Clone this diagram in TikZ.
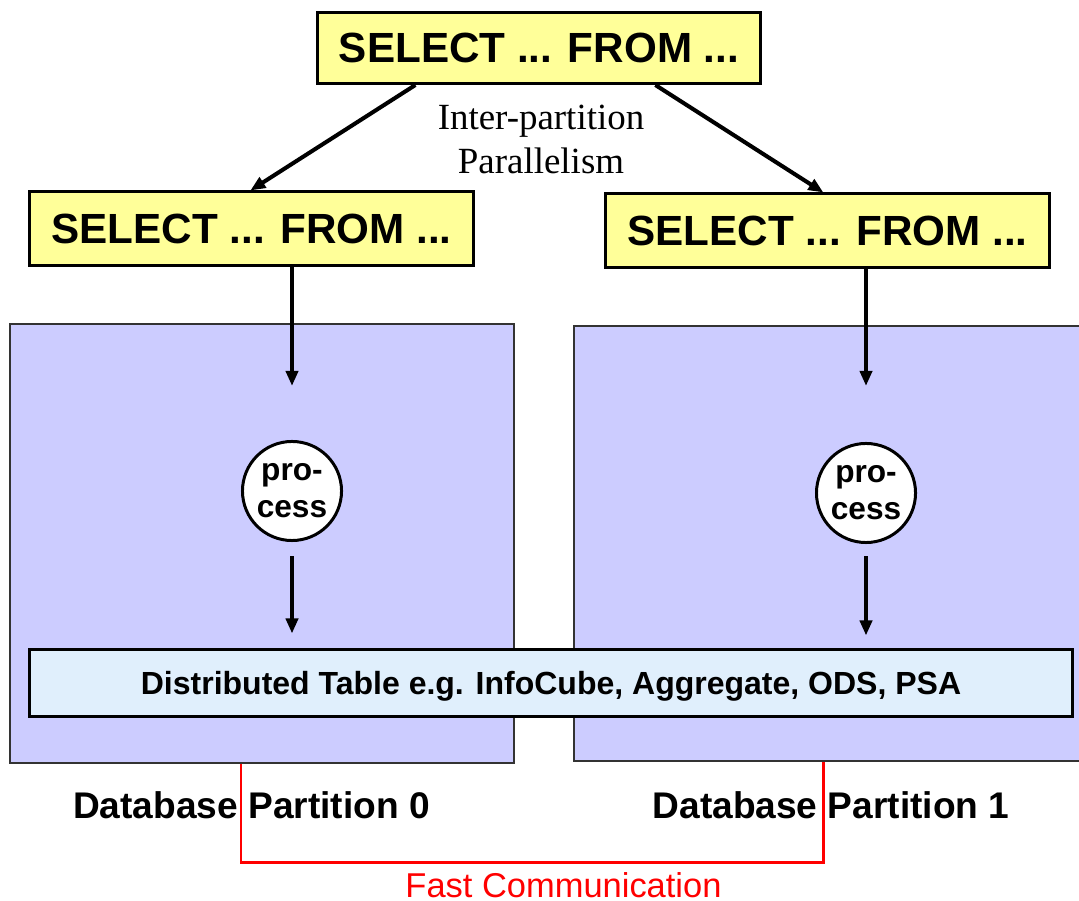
\documentclass[tikz,border=0pt]{standalone}
\usepackage{fontspec}
\setmainfont{Liberation Sans}
\newfontfamily\timesfont{Liberation Serif}
\usetikzlibrary{arrows.meta,calc}
\definecolor{queryyellow}{HTML}{FFFF99}
\definecolor{partlilac}{HTML}{CCCCFF}
\definecolor{tableblue}{HTML}{E0EFFC}
\definecolor{linkred}{HTML}{FF0000}
\tikzset{
  query/.style={draw=black, line width=0.85pt, fill=queryyellow,
    minimum width=4.42cm, minimum height=0.71cm, inner sep=0pt,
    font=\bfseries\fontsize{12}{14}\selectfont},
  partition/.style={draw=black!80, line width=0.6pt, fill=partlilac,
    anchor=north west, inner sep=0pt},
  disttable/.style={draw=black, line width=0.85pt, fill=tableblue,
    minimum width=10.42cm, minimum height=0.66cm, inner sep=0pt,
    text height=6.5pt, text depth=0pt,
    font=\bfseries\fontsize{9.1}{11}\selectfont},
  proc/.style={circle, draw=black, line width=0.85pt, fill=white,
    minimum size=0.99cm, inner sep=0pt, align=center,
    font=\bfseries\fontsize{9}{10.5}\selectfont},
  flow/.style={line width=1.15pt, -{Triangle[length=0.15cm,width=0.12cm]}},
  partlabel/.style={anchor=base, font=\bfseries\fontsize{10.55}{12}\selectfont},
  fastlink/.style={draw=linkred, line width=0.85pt},
}
\begin{document}
\begin{tikzpicture}[x=0.01cm, y=-0.01cm]
  \useasboundingbox (0,0) rectangle (1079,901);
  \clip (0,0) rectangle (1079,901);

  % the two database partitions
  \node[partition, minimum width=5.04cm, minimum height=4.39cm] (lpart) at (9,323) {};
  \node[partition, minimum width=5.12cm, minimum height=4.35cm] (rpart) at (573,325) {};

  % table spread over both partitions
  \node[disttable] (table) at (551,683) {Distributed Table e.g. InfoCube, Aggregate, ODS, PSA};

  % one process per partition
  \node[proc] (lproc) at (292,491) {pro-\\cess};
  \node[proc] (rproc) at (866,493) {pro-\\cess};

  % queries
  \node[query] (top) at (539,48) {SELECT ... FROM ...};
  \node[query, minimum width=4.43cm, minimum height=0.73cm] (lq) at (251.5,228.5) {SELECT ... FROM ...};
  \node[query, minimum width=4.43cm, minimum height=0.73cm] (rq) at (827.5,230.5) {SELECT ... FROM ...};

  \node[font=\timesfont\fontsize{10.5}{12.5}\selectfont, align=center] (inter) at (541,139)
    {Inter-partition\\Parallelism};

  % query fan-out
  \draw[flow] ($(top.south west)+(99,0)$) -- ($(lq.north west)+(222,0)$);
  \draw[flow] ($(top.south west)+(339,0)$) -- ($(rq.north west)+(219,0)$);

  % query -> process -> table
  \draw[flow, shorten >=0.54cm] (lq.south -| lproc) -- (lproc.north);
  \draw[flow, shorten <=0.14cm, shorten >=0.15cm] (lproc.south) -- (lproc |- table.north);
  \draw[flow, shorten >=0.56cm] (rq.south -| rproc) -- (rproc.north);
  \draw[flow, shorten <=0.12cm, shorten >=0.13cm] (rproc.south) -- (rproc |- table.north);

  % partition labels
  \node[partlabel] (lbl0) at (251.5,818) {Database Partition 0};
  \node[partlabel] (lbl1) at (831,818) {Database Partition 1};

  % link between the partitions
  \draw[fastlink] ($(lpart.south west)+(232,0)$) -- ++(0,98) -| ($(rpart.south west)+(250,0)$);
  \node[anchor=base, text=linkred, font=\fontsize{9.8}{12}\selectfont] (fast) at (563.5,897)
    {Fast Communication};
\end{tikzpicture}
\end{document}
